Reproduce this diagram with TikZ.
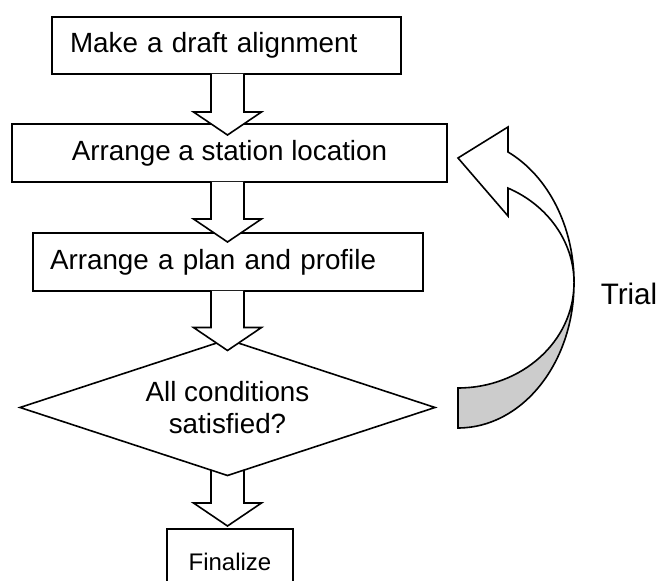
\documentclass[tikz,border=0pt]{standalone}
\usepackage{fontspec}
\setmainfont{Liberation Sans}
\usetikzlibrary{shapes}
\usetikzlibrary{calc}
\usetikzlibrary{backgrounds}
\definecolor{backface}{gray}{0.8}
\tikzset{
    stage/.style={rectangle, draw=black, fill=white, outer sep=0pt,
        minimum height=29pt, font=\fontsize{13.9}{16}\selectfont},
    stageleft/.style={stage, align=left, inner xsep=#1},
    check/.style={diamond, draw=black, fill=white, outer sep=0pt, inner sep=0pt,
        aspect=3.05, minimum width=207.5pt, minimum height=68pt, align=center,
        font=\fontsize{13.9}{16}\selectfont},
    blockarrow/.style={draw=black, fill=white, line width=0.8pt},
    loopfront/.style={draw=black, fill=white},
    loopback/.style={draw=black, fill=backface},
}
% fat downward arrow: start point, tip point
\newcommand{\fatarrow}[2]{%
    \draw[blockarrow] let \p1=#1, \p2=#2 in
        (\x1-8.25pt,\y1) -- (\x1-8.25pt,\y2+11.5pt) -- (\x1-17pt,\y2+11.5pt)
        -- (\x1,\y2) -- (\x1+17pt,\y2+11.5pt) -- (\x1+8.25pt,\y2+11.5pt)
        -- (\x1+8.25pt,\y1);
}

\begin{document}
\begin{tikzpicture}[x=0.5pt, y=-0.5pt, line width=0.8pt]
	\useasboundingbox (0,0) rectangle (660,581);
	\clip (0,0) rectangle (660,581);
	\node[stageleft=9pt, text width=156.5pt, minimum height=28.5pt] (draft) at (226.5,45.5) {Make a draft alignment};
	\node[stage, minimum width=217.5pt] (station) at (229.5,153) {Arrange a station location};
	\node[stageleft=8.5pt, text width=178pt] (plan) at (228,262) {Arrange a plan and profile};
	\node[check] (cond) at (227.5,407.5) {All conditions\\satisfied?};
	\node[stage, minimum width=63pt, minimum height=32.5pt,
		font=\fontsize{12}{14}\selectfont] (final) at (230,561.5) {Finalize};
	% arrows down the flow
	\fatarrow{(draft.south -| cond.center)}{($(station.north)+(0,11)$)}
	\fatarrow{(station.south -| cond.center)}{($(plan.north)+(0,9)$)}
	\fatarrow{(plan.south -| cond.center)}{($(cond.north)+(0,11)$)}
\begin{scope}[on background layer]
	\fatarrow{(cond.center)}{($(final.north)+(0,-3)$)}
\end{scope}
	% trial loop
	\draw[loopback] (574,283) arc[start angle=0, end angle=-90, x radius=58pt, y radius=72.5pt]
		-- (458,388) arc[start angle=-90, end angle=0, x radius=58pt, y radius=52.5pt] -- cycle;
	\draw[loopfront] (508,152) arc[start angle=64.5, end angle=0, x radius=58pt, y radius=72.5pt]
		arc[start angle=0, end angle=64.5, x radius=58pt, y radius=52.5pt]
		-- (508,216) -- (458,158) -- (508,127) -- cycle;
	\node[anchor=base west, inner sep=0pt, font=\fontsize{14.8}{18}\selectfont] (trial) at (600,305) {Trial};
\end{tikzpicture}
\end{document}
